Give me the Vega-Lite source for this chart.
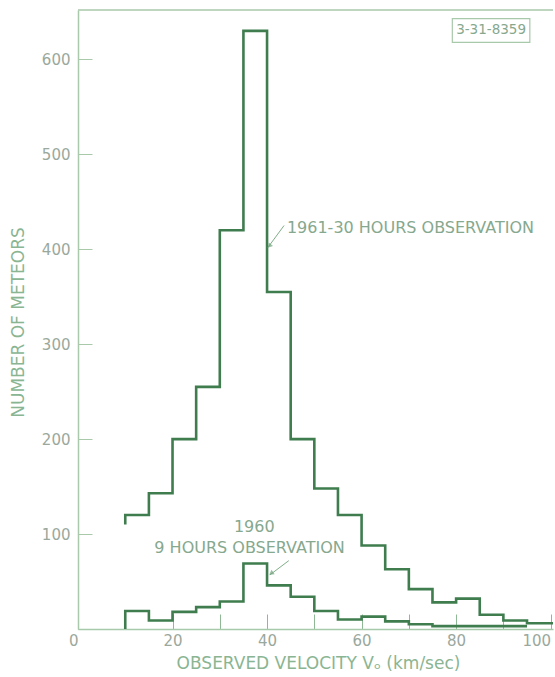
{
  "$schema": "https://vega.github.io/schema/vega-lite/v6.json",
  "width": 475,
  "height": 619,
  "autosize": {"type": "none"},
  "padding": {"left": 78, "top": 10, "right": 2, "bottom": 48},
  "background": "#ffffff",
  "config": {
    "view": {"stroke": null},
    "font": "DejaVu Sans",
    "axis": {"grid": false}
  },
  "data": {"values": [{}]},
  "datasets": {
    "hist": [
      {"s": "1961", "i": 0, "v": 10, "n": 110},
      {"s": "1961", "i": 1, "v": 10, "n": 120},
      {"s": "1961", "i": 2, "v": 15, "n": 143},
      {"s": "1961", "i": 3, "v": 20, "n": 200},
      {"s": "1961", "i": 4, "v": 25, "n": 255},
      {"s": "1961", "i": 5, "v": 30, "n": 420},
      {"s": "1961", "i": 6, "v": 35, "n": 630},
      {"s": "1961", "i": 7, "v": 40, "n": 355},
      {"s": "1961", "i": 8, "v": 45, "n": 200},
      {"s": "1961", "i": 9, "v": 50, "n": 148},
      {"s": "1961", "i": 10, "v": 55, "n": 120},
      {"s": "1961", "i": 11, "v": 60, "n": 88},
      {"s": "1961", "i": 12, "v": 65, "n": 63},
      {"s": "1961", "i": 13, "v": 70, "n": 42},
      {"s": "1961", "i": 14, "v": 75, "n": 28},
      {"s": "1961", "i": 15, "v": 80, "n": 32},
      {"s": "1961", "i": 16, "v": 85, "n": 15},
      {"s": "1961", "i": 17, "v": 90, "n": 9},
      {"s": "1961", "i": 18, "v": 95, "n": 6},
      {"s": "1961", "i": 19, "v": 100.5, "n": 6},
      {"s": "1960", "i": 0, "v": 10, "n": 0},
      {"s": "1960", "i": 1, "v": 10, "n": 19},
      {"s": "1960", "i": 2, "v": 15, "n": 9},
      {"s": "1960", "i": 3, "v": 20, "n": 18},
      {"s": "1960", "i": 4, "v": 25, "n": 23},
      {"s": "1960", "i": 5, "v": 30, "n": 29},
      {"s": "1960", "i": 6, "v": 35, "n": 69},
      {"s": "1960", "i": 7, "v": 40, "n": 46},
      {"s": "1960", "i": 8, "v": 45, "n": 34},
      {"s": "1960", "i": 9, "v": 50, "n": 19},
      {"s": "1960", "i": 10, "v": 55, "n": 10},
      {"s": "1960", "i": 11, "v": 60, "n": 13},
      {"s": "1960", "i": 12, "v": 65, "n": 8},
      {"s": "1960", "i": 13, "v": 70, "n": 5},
      {"s": "1960", "i": 14, "v": 75, "n": 3},
      {"s": "1960", "i": 15, "v": 80, "n": 3},
      {"s": "1960", "i": 16, "v": 85, "n": 3},
      {"s": "1960", "i": 17, "v": 90, "n": 3},
      {"s": "1960", "i": 18, "v": 95, "n": 3}
    ]
  },
  "layer": [
    {
      "mark": {"type": "rule", "stroke": "#a9c9ab", "strokeWidth": 1.5},
      "encoding": {"y": {"datum": 652, "type": "quantitative", "scale": {"domain": [0, 652]}}}
    },
    {
      "data": {"name": "hist"},
      "mark": {"type": "line", "interpolate": "step-after", "stroke": "#3f7d4f", "strokeWidth": 2.6, "clip": true},
      "encoding": {
        "x": {
          "field": "v", "type": "quantitative",
          "scale": {"domain": [0, 100.5], "nice": false},
          "axis": {
            "values": [0, 10, 20, 30, 40, 50, 60, 70, 80, 90, 100],
            "labelExpr": "datum.value % 20 == 0 ? datum.label : ''",
            "labelAlign": {"expr": "datum.value == 0 || datum.value == 100 ? 'right' : 'center'"},
            "labelFlush": false,
            "tickSize": -15,
            "tickColor": "#8fb894",
            "tickWidth": 1,
            "labelPadding": 19,
            "labelFontSize": 15,
            "labelColor": "#9aa89d",
            "domainColor": "#a9c9ab",
            "domainWidth": 1.5,
            "title": "OBSERVED VELOCITY Vₒ (km/sec)",
            "titleFontSize": 17,
            "titleFontWeight": "normal",
            "titleColor": "#8ab592",
            "titleX": 240,
            "titleY": 34,
            "titleBaseline": "middle",
            "titleAlign": "center"
          }
        },
        "y": {
          "field": "n", "type": "quantitative",
          "scale": {"domain": [0, 652], "nice": false},
          "axis": {
            "values": [0, 100, 200, 300, 400, 500, 600],
            "labelExpr": "datum.value == 0 ? '' : datum.label",
            "tickSize": -14,
            "tickColor": "#a9c9ab",
            "labelPadding": 22,
            "labelFontSize": 15,
            "labelColor": "#9aa89d",
            "domainColor": "#a9c9ab",
            "domainWidth": 1.5,
            "title": "NUMBER OF METEORS",
            "titleFontSize": 17,
            "titleFontWeight": "normal",
            "titleColor": "#8ab592",
            "titleAngle": -90,
            "titleX": -60,
            "titleY": 312,
            "titleBaseline": "middle",
            "titleAlign": "center"
          }
        },
        "detail": {"field": "s"},
        "order": {"field": "i"}
      }
    },
    {
      "mark": {"type": "rule", "stroke": "#7fae88", "strokeWidth": 1},
      "encoding": {
        "x": {"datum": 43.6, "type": "quantitative"},
        "y": {"datum": 425, "type": "quantitative"},
        "x2": {"datum": 40.2},
        "y2": {"datum": 402}
      }
    },
    {
      "mark": {"type": "rule", "stroke": "#7fae88", "strokeWidth": 1},
      "encoding": {
        "x": {"datum": 44.6, "type": "quantitative"},
        "y": {"datum": 72, "type": "quantitative"},
        "x2": {"datum": 40.6},
        "y2": {"datum": 57}
      }
    },
    {
      "mark": {"type": "point", "shape": "triangle", "filled": true, "size": 30, "color": "#6f9f7a", "angle": 220},
      "encoding": {
        "x": {"datum": 40.6, "type": "quantitative"},
        "y": {"datum": 404, "type": "quantitative"}
      }
    },
    {
      "mark": {"type": "point", "shape": "triangle", "filled": true, "size": 30, "color": "#6f9f7a", "angle": 235},
      "encoding": {
        "x": {"datum": 41, "type": "quantitative"},
        "y": {"datum": 59, "type": "quantitative"}
      }
    },
    {
      "mark": {"type": "text", "text": "1961-30 HOURS OBSERVATION", "align": "left", "baseline": "middle", "fontSize": 16, "color": "#86a88e"},
      "encoding": {
        "x": {"datum": 44.2, "type": "quantitative"},
        "y": {"datum": 422, "type": "quantitative"}
      }
    },
    {
      "mark": {"type": "text", "text": "1960", "align": "center", "baseline": "middle", "fontSize": 16, "color": "#86a88e"},
      "encoding": {
        "x": {"datum": 37.3, "type": "quantitative"},
        "y": {"datum": 107, "type": "quantitative"}
      }
    },
    {
      "mark": {"type": "text", "text": "9 HOURS OBSERVATION", "align": "center", "baseline": "middle", "fontSize": 16, "color": "#86a88e"},
      "encoding": {
        "x": {"datum": 36.3, "type": "quantitative"},
        "y": {"datum": 85, "type": "quantitative"}
      }
    },
    {
      "mark": {"type": "rect", "fill": "#ffffff", "stroke": "#a9c9ab", "strokeWidth": 1.2},
      "encoding": {
        "x": {"datum": 79.2, "type": "quantitative"},
        "x2": {"datum": 95.6},
        "y": {"datum": 643, "type": "quantitative"},
        "y2": {"datum": 618}
      }
    },
    {
      "mark": {"type": "text", "text": "3-31-8359", "align": "center", "baseline": "middle", "fontSize": 13.5, "color": "#86a88e"},
      "encoding": {
        "x": {"datum": 87.4, "type": "quantitative"},
        "y": {"datum": 630.5, "type": "quantitative"}
      }
    }
  ]
}
